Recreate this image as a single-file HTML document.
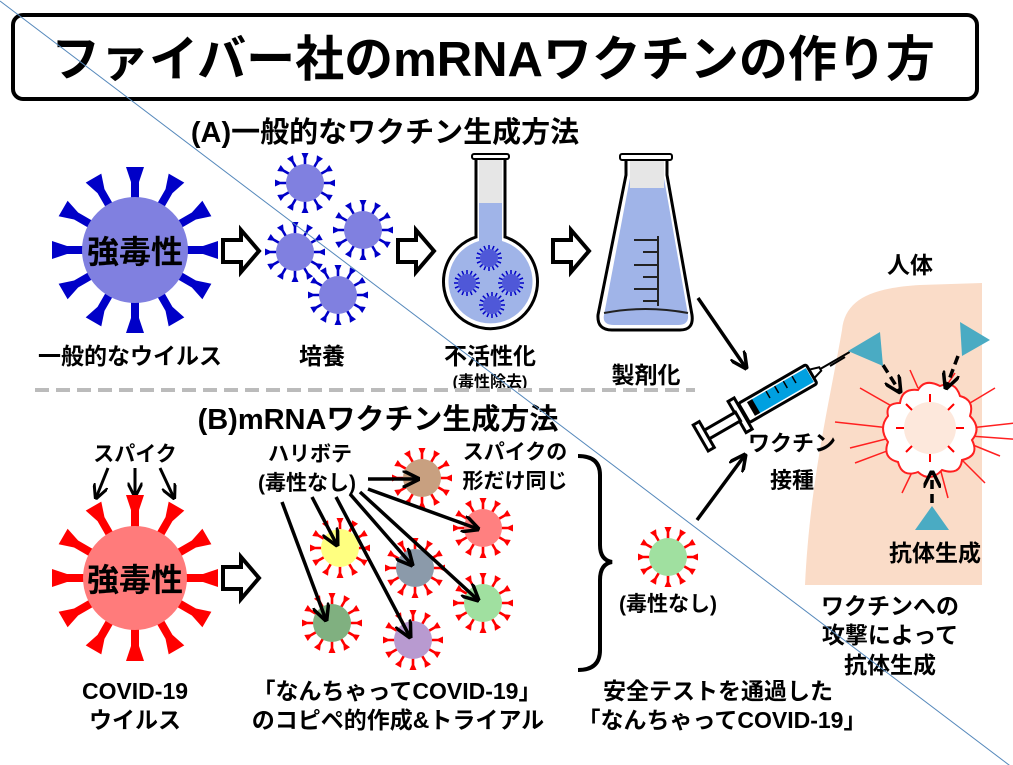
<!DOCTYPE html>
<html><head><meta charset="utf-8"><style>
html,body{margin:0;padding:0;background:#fff;}
svg{display:block;font-family:"Liberation Sans","Noto Sans CJK JP",sans-serif;font-weight:bold;}
</style></head><body>
<svg width="1013" height="765" viewBox="0 0 1013 765" xmlns="http://www.w3.org/2000/svg">
<defs>
  <marker id="ah" viewBox="0 0 10 10" refX="9" refY="5" markerWidth="5" markerHeight="5" orient="auto"><path d="M0,0 L10,5 L0,10" fill="none" stroke="#000" stroke-width="2"/></marker>
  <g id="bspk"><path d="M-4,-50 L4,-50 L4,-68 L9,-83 L-9,-83 L-4,-68Z" fill="#0000c8"/></g>
  <g id="bigblue">
    <use href="#bspk"/><use href="#bspk" transform="rotate(30)"/><use href="#bspk" transform="rotate(60)"/><use href="#bspk" transform="rotate(90)"/><use href="#bspk" transform="rotate(120)"/><use href="#bspk" transform="rotate(150)"/><use href="#bspk" transform="rotate(180)"/><use href="#bspk" transform="rotate(210)"/><use href="#bspk" transform="rotate(240)"/><use href="#bspk" transform="rotate(270)"/><use href="#bspk" transform="rotate(300)"/><use href="#bspk" transform="rotate(330)"/>
    <circle r="53" fill="#8080e0"/>
  </g>
  <g id="rspk"><path d="M-4,-50 L4,-50 L4,-68 L9,-83 L-9,-83 L-4,-68Z" fill="#ff0000"/></g>
  <g id="bigred">
    <use href="#rspk"/><use href="#rspk" transform="rotate(30)"/><use href="#rspk" transform="rotate(60)"/><use href="#rspk" transform="rotate(90)"/><use href="#rspk" transform="rotate(120)"/><use href="#rspk" transform="rotate(150)"/><use href="#rspk" transform="rotate(180)"/><use href="#rspk" transform="rotate(210)"/><use href="#rspk" transform="rotate(240)"/><use href="#rspk" transform="rotate(270)"/><use href="#rspk" transform="rotate(300)"/><use href="#rspk" transform="rotate(330)"/>
    <circle r="52" fill="#ff7b7b"/>
  </g>
  <g id="sbs"><path d="M-1.3,-18 L1.3,-18 L1.3,-25 L3.5,-30 L-3.5,-30 L-1.3,-25Z" fill="#0000c8"/></g>
  <g id="sblue">
    <use href="#sbs"/><use href="#sbs" transform="rotate(30)"/><use href="#sbs" transform="rotate(60)"/><use href="#sbs" transform="rotate(90)"/><use href="#sbs" transform="rotate(120)"/><use href="#sbs" transform="rotate(150)"/><use href="#sbs" transform="rotate(180)"/><use href="#sbs" transform="rotate(210)"/><use href="#sbs" transform="rotate(240)"/><use href="#sbs" transform="rotate(270)"/><use href="#sbs" transform="rotate(300)"/><use href="#sbs" transform="rotate(330)"/>
    <circle r="19" fill="#8080e0"/>
  </g>
  <g id="srs"><path d="M-1.3,-18 L1.3,-18 L1.3,-25 L3.5,-30 L-3.5,-30 L-1.3,-25Z" fill="#ff0000"/></g>
  <g id="sred">
    <use href="#srs"/><use href="#srs" transform="rotate(30)"/><use href="#srs" transform="rotate(60)"/><use href="#srs" transform="rotate(90)"/><use href="#srs" transform="rotate(120)"/><use href="#srs" transform="rotate(150)"/><use href="#srs" transform="rotate(180)"/><use href="#srs" transform="rotate(210)"/><use href="#srs" transform="rotate(240)"/><use href="#srs" transform="rotate(270)"/><use href="#srs" transform="rotate(300)"/><use href="#srs" transform="rotate(330)"/>
  </g>
  <g id="tiny">
    <g stroke="#0000c8" stroke-width="1.5">
      <line x1="0" y1="-9" x2="0" y2="-13"/><line x1="0" y1="9" x2="0" y2="13"/><line x1="-9" y1="0" x2="-13" y2="0"/><line x1="9" y1="0" x2="13" y2="0"/>
      <line x1="6.4" y1="6.4" x2="9.2" y2="9.2"/><line x1="-6.4" y1="6.4" x2="-9.2" y2="9.2"/><line x1="6.4" y1="-6.4" x2="9.2" y2="-9.2"/><line x1="-6.4" y1="-6.4" x2="-9.2" y2="-9.2"/>
      <line x1="3.4" y1="8.3" x2="5" y2="12"/><line x1="-3.4" y1="8.3" x2="-5" y2="12"/><line x1="3.4" y1="-8.3" x2="5" y2="-12"/><line x1="-3.4" y1="-8.3" x2="-5" y2="-12"/>
      <line x1="8.3" y1="3.4" x2="12" y2="5"/><line x1="-8.3" y1="3.4" x2="-12" y2="5"/><line x1="8.3" y1="-3.4" x2="12" y2="-5"/><line x1="-8.3" y1="-3.4" x2="-12" y2="-5"/>
    </g>
    <circle r="9" fill="#4f58d8"/>
  </g>
  <path id="harrow" d="M0,10 L18,10 L18,0 L36,21 L18,42 L18,32 L0,32Z" fill="#fff" stroke="#000" stroke-width="4" stroke-linejoin="miter"/>
</defs>

<!-- body -->
<path d="M805,585 C810,480 830,400 842,330 C845,300 870,288 920,285 L982,283 L982,585Z" fill="#fadcc8"/>

<!-- title -->
<rect x="13" y="15" width="964" height="84" rx="10" fill="#fff" stroke="#000" stroke-width="4"/>
<text x="493" y="76" font-size="49" text-anchor="middle" font-weight="bold">ファイバー社のmRNAワクチンの作り方</text>

<text x="385" y="142" font-size="29" text-anchor="middle">(A)一般的なワクチン生成方法</text>

<!-- A viruses -->
<use href="#bigblue" transform="translate(135,250)"/>
<text x="135" y="263" font-size="32" text-anchor="middle">強毒性</text>
<use href="#harrow" transform="translate(223,230)"/>
<use href="#sblue" transform="translate(305,183)"/>
<use href="#sblue" transform="translate(363,230)"/>
<use href="#sblue" transform="translate(295,252)"/>
<use href="#sblue" transform="translate(338,295)"/>
<use href="#harrow" transform="translate(398,230)"/>

<!-- round flask -->
<path d="M476,157 L476,237 A47,47 0 1,0 505,237 L505,157Z" fill="#fff" stroke="#000" stroke-width="3"/>
<rect x="479" y="160" width="23" height="44" fill="#e6e6e6"/>
<path d="M479,203 L502,203 L502,241 A42,42 0 1,1 479,241Z" fill="#a0b4e8"/>
<rect x="472" y="154" width="37" height="5" rx="2" fill="#fff" stroke="#000" stroke-width="2"/>
<use href="#tiny" transform="translate(489,258)"/>
<use href="#tiny" transform="translate(467,283)"/>
<use href="#tiny" transform="translate(511,283)"/>
<use href="#tiny" transform="translate(492,305)"/>

<use href="#harrow" transform="translate(553,230)"/>

<!-- erlenmeyer -->
<path d="M626,157 L626,175 L598,315 Q597,330 612,330 L680,330 Q694,330 692,315 L667,175 L667,157Z" fill="#fff" stroke="#000" stroke-width="3"/>
<rect x="630" y="160" width="34" height="30" fill="#e6e6e6"/>
<path d="M630,188 L664,188 L664,178 L688,315 Q689,325 678,325 L614,325 Q602,325 604,315 L630,178Z" fill="#a0b4e8"/>
<rect x="620" y="154" width="52" height="6" rx="2" fill="#fff" stroke="#000" stroke-width="2"/>
<g stroke="#222" stroke-width="2"><line x1="658" y1="236" x2="658" y2="306"/><line x1="634" y1="240" x2="658" y2="240"/><line x1="643" y1="252" x2="658" y2="252"/><line x1="634" y1="265" x2="658" y2="265"/><line x1="643" y1="277" x2="658" y2="277"/><line x1="634" y1="289" x2="658" y2="289"/><line x1="643" y1="301" x2="658" y2="301"/></g>
<path d="M604,313 Q645,305 688,313" fill="none" stroke="#222" stroke-width="2"/>

<g font-size="23" text-anchor="middle">
<text x="130" y="364">一般的なウイルス</text>
<text x="322" y="364">培養</text>
<text x="490" y="364">不活性化</text>
<text x="490" y="387" font-size="16">(毒性除去)</text>
<text x="646" y="383">製剤化</text>
</g>

<line x1="35" y1="390" x2="695" y2="390" stroke="#bbbbbb" stroke-width="4" stroke-dasharray="14,7"/>

<text x="378" y="429" font-size="29" text-anchor="middle">(B)mRNAワクチン生成方法</text>

<!-- B -->
<text x="135" y="461" font-size="21" text-anchor="middle">スパイク</text>
<g stroke="#000" stroke-width="3" marker-end="url(#ah)" fill="none">
<line x1="108" y1="468" x2="96" y2="498"/><line x1="135" y1="468" x2="135" y2="496"/><line x1="160" y1="468" x2="174" y2="498"/>
</g>
<use href="#bigred" transform="translate(135,578)"/>
<text x="135" y="591" font-size="32" text-anchor="middle">強毒性</text>
<use href="#harrow" transform="translate(223,557)"/>

<use href="#sred" transform="translate(422,478)"/><circle cx="422" cy="478" r="19" fill="#c8a080"/>
<use href="#sred" transform="translate(483,528)"/><circle cx="483" cy="528" r="19" fill="#ff8080"/>
<use href="#sred" transform="translate(340,548)"/><circle cx="340" cy="548" r="19" fill="#ffff80"/>
<use href="#sred" transform="translate(415,568)"/><circle cx="415" cy="568" r="19" fill="#8b9aaa"/>
<use href="#sred" transform="translate(483,603)"/><circle cx="483" cy="603" r="19" fill="#a0e0a0"/>
<use href="#sred" transform="translate(332,623)"/><circle cx="332" cy="623" r="19" fill="#80b080"/>
<use href="#sred" transform="translate(413,640)"/><circle cx="413" cy="640" r="19" fill="#b89ad0"/>

<g font-size="21" text-anchor="middle">
<text x="310" y="461">ハリボテ</text>
<text x="307" y="490">(毒性なし)</text>
<text x="515" y="459">スパイクの</text>
<text x="515" y="488">形だけ同じ</text>
</g>
<g stroke="#000" stroke-width="3.5" marker-end="url(#ah)" fill="none">
<line x1="368" y1="479" x2="418" y2="479"/>
<line x1="368" y1="489" x2="478" y2="529"/>
<line x1="282" y1="502" x2="326" y2="620"/>
<line x1="312" y1="497" x2="337" y2="545"/>
<line x1="336" y1="497" x2="410" y2="637"/>
<line x1="350" y1="494" x2="412" y2="565"/>
<line x1="360" y1="492" x2="478" y2="600"/>
</g>
<path d="M578,456 Q600,456 600,475 L600,545 Q600,560 612,562 Q600,564 600,580 L600,650 Q600,670 578,670" fill="none" stroke="#000" stroke-width="4"/>

<use href="#sred" transform="translate(668,557)"/><circle cx="668" cy="557" r="19" fill="#a0e0a0"/>
<text x="668" y="611" font-size="21" text-anchor="middle">(毒性なし)</text>

<g font-size="23" text-anchor="middle">
<text x="135" y="699">COVID-19</text>
<text x="135" y="728">ウイルス</text>
<text x="397" y="699">「なんちゃってCOVID-19」</text>
<text x="398" y="728">のコピペ的作成&amp;トライアル</text>
<text x="718" y="699">安全テストを通過した</text>
<text x="722" y="728">「なんちゃってCOVID-19」</text>
</g>

<!-- arrows to syringe -->
<g stroke="#000" stroke-width="3.5" marker-end="url(#ah)" fill="none">
<line x1="698" y1="298" x2="746" y2="368"/>
<line x1="697" y1="520" x2="745" y2="455"/>
</g>

<!-- syringe -->
<g transform="translate(770,398) rotate(-30)">
<line x1="58" y1="0" x2="92" y2="0" stroke="#000" stroke-width="2"/>
<path d="M48,-5 L58,-2 L58,2 L48,5Z" fill="#fff" stroke="#000" stroke-width="2"/>
<rect x="-30" y="-11" width="78" height="22" rx="2" fill="#fff" stroke="#000" stroke-width="3"/>
<rect x="-18" y="-8" width="64" height="16" fill="#00a0e0"/>
<rect x="-22" y="-8" width="6" height="16" fill="#000"/>
<rect x="-38" y="-18" width="7" height="36" fill="#fff" stroke="#000" stroke-width="3"/>
<rect x="-75" y="-5" width="38" height="10" fill="#fff" stroke="#000" stroke-width="3"/>
<rect x="-80" y="-15" width="7" height="30" fill="#fff" stroke="#000" stroke-width="3"/>
<g stroke="#000" stroke-width="1.5"><line x1="0" y1="-8" x2="0" y2="0"/><line x1="10" y1="-8" x2="10" y2="0"/><line x1="20" y1="-8" x2="20" y2="0"/><line x1="30" y1="-8" x2="30" y2="0"/></g>
</g>
<line x1="830" y1="366" x2="845" y2="357" stroke="#000" stroke-width="2"/>
<g font-size="22" text-anchor="middle">
<text x="792" y="451">ワクチン</text>
<text x="792" y="488">接種</text>
</g>

<!-- explosion -->
<g transform="translate(930,428)" stroke="#ff2020" stroke-width="1.5">
<g><line x1="40" y1="0" x2="85" y2="-5"/><line x1="38" y1="15" x2="70" y2="28"/><line x1="30" y1="30" x2="55" y2="55"/><line x1="10" y1="40" x2="18" y2="70"/><line x1="-15" y1="38" x2="-28" y2="65"/><line x1="-35" y1="20" x2="-75" y2="35"/><line x1="-40" y1="0" x2="-95" y2="-6"/><line x1="-35" y1="-20" x2="-70" y2="-40"/><line x1="-12" y1="-40" x2="-20" y2="-58"/><line x1="15" y1="-40" x2="25" y2="-55"/><line x1="35" y1="-22" x2="65" y2="-40"/><line x1="40" y1="8" x2="95" y2="12"/><line x1="-40" y1="10" x2="-80" y2="20"/></g>
<path d="M-30,-25 Q-28,-40 -12,-38 Q-5,-50 10,-42 Q25,-48 30,-32 Q45,-28 40,-12 Q52,0 42,12 Q50,28 32,32 Q30,48 12,42 Q0,55 -12,44 Q-28,50 -32,34 Q-48,30 -42,14 Q-52,0 -42,-12 Q-45,-25 -30,-25Z" fill="#fff" stroke-width="2"/>
<circle r="26" fill="#fde8dc" stroke="none"/>
<g stroke="#ff0000" stroke-width="2"><line x1="0" y1="-26" x2="0" y2="-34"/><line x1="0" y1="26" x2="0" y2="34"/><line x1="-26" y1="0" x2="-34" y2="0"/><line x1="26" y1="0" x2="34" y2="0"/><line x1="18" y1="18" x2="24" y2="24"/><line x1="-18" y1="18" x2="-24" y2="24"/><line x1="18" y1="-18" x2="24" y2="-24"/><line x1="-18" y1="-18" x2="-24" y2="-24"/></g>
</g>
<g stroke="#000" stroke-width="3.5" stroke-dasharray="9,5" marker-end="url(#ah)" fill="none">
<line x1="883" y1="365" x2="900" y2="392"/>
<line x1="958" y1="356" x2="946" y2="388"/>
<line x1="932" y1="503" x2="932" y2="472"/>
</g>
<polygon points="848,351 880,332 883,366" fill="#4aabc3"/>
<polygon points="960,322 990,340 962,356" fill="#4aabc3"/>
<polygon points="932,506 915,530 949,530" fill="#4aabc3"/>

<g font-size="23" text-anchor="middle">
<text x="910" y="273">人体</text>
<text x="935" y="561">抗体生成</text>
<text x="890" y="614">ワクチンへの</text>
<text x="890" y="643">攻撃によって</text>
<text x="890" y="673">抗体生成</text>
</g>

<line x1="0" y1="1" x2="1013" y2="768" stroke="#5588bb" stroke-width="1"/>
</svg>
</body></html>
